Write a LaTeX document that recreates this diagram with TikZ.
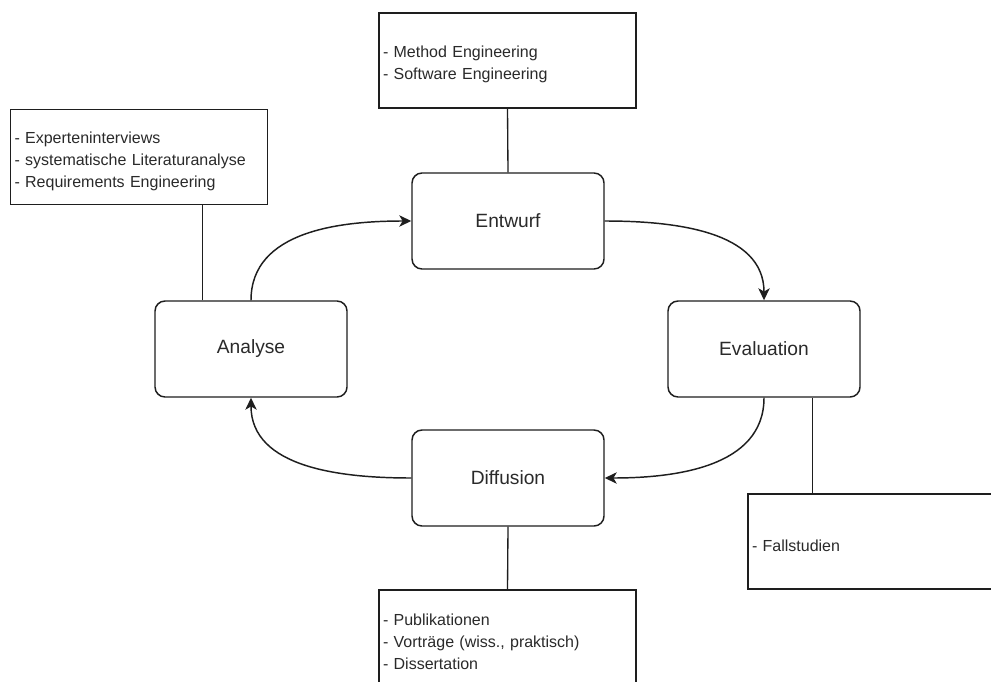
\documentclass[tikz,border=0pt]{standalone}
\usepackage{fontspec}
\setmainfont{Liberation Sans}
\usetikzlibrary{arrows.meta,calc}
\definecolor{ink}{HTML}{1E1E1E}
\definecolor{txt}{HTML}{2A2A2A}
\begin{document}
\begin{tikzpicture}[x=0.75pt,y=-0.75pt,
  phase/.style={draw=ink, line width=1.1pt, rounded corners=7.5pt,
    minimum width=144pt, minimum height=72pt, inner sep=0pt,
    font=\fontsize{14.4}{17}\selectfont, text=txt},
  notebox/.style={draw=ink, line width=1pt, minimum width=192.75pt,
    minimum height=71.25pt, align=left, text width=186.75pt,
    inner xsep=3pt, inner ysep=0pt, text height=14.5pt,
    font=\fontsize{12}{16.5}\selectfont, text=txt},
  link/.style={draw=ink, line width=1pt},
  flow/.style={draw=ink, line width=1.1pt,
    -{Stealth[length=9pt,width=8.5pt,inset=2.5pt]}}
]
% page frame
\useasboundingbox (0,0) rectangle (991,681);
\fill[white] (0,0) rectangle (991,681);
\clip (0,0) rectangle (991,681);

% the four phases of the cycle
\node[phase] (entwurf)    at (508,221) {Entwurf};
\node[phase] (evaluation) at (764,349) {Evaluation};
\node[phase] (diffusion)  at (508,478) {Diffusion};
\node[phase] (analyse)    at (251,349) {Analyse};

% methods attached to each phase
\node[notebox] (mEntwurf) at (507.5,60.5)
  {- Method Engineering\\- Software Engineering};
\node[notebox] (mAnalyse) at (139,157)
  {- Experteninterviews\\- systematische Literaturanalyse\\- Requirements Engineering};
\node[notebox] (mEvaluation) at (876.5,541.5)
  {- Fallstudien};
\node[notebox] (mDiffusion) at (507.5,637.5)
  {- Publikationen\\- Vorträge (wiss., praktisch)\\- Dissertation};

% links between phases and their methods
\draw[link] (mEntwurf.south) -- (entwurf.north);
\draw[link] (mDiffusion.north) -- (diffusion.south);
\coordinate (aTop) at ($(analyse.north west)!0.25!(analyse.north east)$);
\draw[link] (aTop) -- (aTop |- mAnalyse.south);
\coordinate (eBot) at ($(evaluation.south west)!0.75!(evaluation.south east)$);
\draw[link] (eBot) -- (eBot |- mEvaluation.north);

% cycle
\draw[flow] (analyse.north) to[out=90,in=180] (entwurf.west);
\draw[flow] (entwurf.east) to[out=0,in=90] (evaluation.north);
\draw[flow] (evaluation.south) to[out=-90,in=0] (diffusion.east);
\draw[flow] (diffusion.west) to[out=180,in=-90] (analyse.south);
\end{tikzpicture}
\end{document}
